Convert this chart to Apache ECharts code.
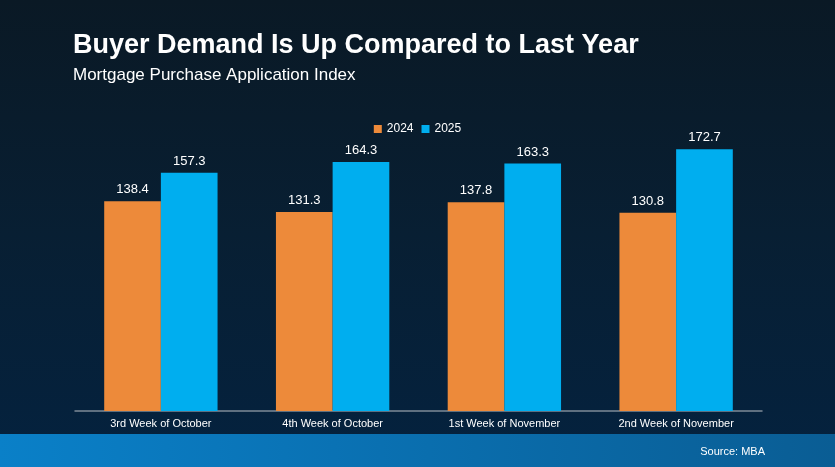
<!DOCTYPE html>
<html><head><meta charset="utf-8">
<script src="https://cdn.jsdelivr.net/npm/echarts@6/dist/echarts.min.js"></script>
<style>html,body{margin:0;padding:0;background:#0a1a28;}#c{width:835px;height:467px;}</style>
</head><body><div id="c"></div>
<script>
const categories = ['3rd Week of October','4th Week of October','1st Week of November','2nd Week of November'];
const values2024 = [138.4, 131.3, 137.8, 130.8];
const values2025 = [157.3, 164.3, 163.3, 172.7];
const seriesNames = ['2024','2025'];

const chart = echarts.init(document.getElementById('c'));
const font = 'Liberation Sans, Arial, sans-serif';
chart.setOption({
  backgroundColor: new echarts.graphic.LinearGradient(0,0,0,1,[
    {offset:0,color:'#0a1925'},{offset:0.5,color:'#081f33'},{offset:1,color:'#04223f'}]),
  graphic: [
    {type:'rect', shape:{x:0,y:434,width:835,height:33}, style:{fill:new echarts.graphic.LinearGradient(0,0,1,0,[
      {offset:0,color:'#0a80c8'},{offset:0.4,color:'#0a72b4'},{offset:1,color:'#0a5d94'}])}, z:-1},
    {type:'text', left:73, top:32, style:{text:'Buyer Demand Is Up Compared to Last Year', fill:'#fff', font:'bold 27px '+font}},
    {type:'text', left:73, top:67, style:{text:'Mortgage Purchase Application Index', fill:'#fff', font:'17px '+font}},
    {type:'text', right:70, top:446, style:{text:'Source: MBA', fill:'#fff', font:'11px '+font}}
  ],
  legend: {top:118, left:'center', itemWidth:8, itemHeight:8, itemGap:8, icon:'rect',
    textStyle:{color:'#fff', fontSize:12, fontFamily:font}, data:seriesNames},
  grid: {left:75, right:73, top:108, bottom:56},
  xAxis: {type:'category', data:categories,
    axisLine:{lineStyle:{color:'#7d8a96', width:1.5}}, axisTick:{show:false},
    axisLabel:{color:'#fff', fontSize:11, fontFamily:font, margin:7}},
  yAxis: {type:'value', min:0, max:200, show:false, splitLine:{show:false}},
  series: [
    {name:seriesNames[0], type:'bar', data:values2024, barGap:'0%', barCategoryGap:'34%',
     itemStyle:{color:'#ED8A3A'}, label:{show:true, position:'top', color:'#fff', fontSize:13, fontFamily:font, distance:5}},
    {name:seriesNames[1], type:'bar', data:values2025,
     itemStyle:{color:'#00AEEF'}, label:{show:true, position:'top', color:'#fff', fontSize:13, fontFamily:font, distance:5}}
  ]
});
</script></body></html>
